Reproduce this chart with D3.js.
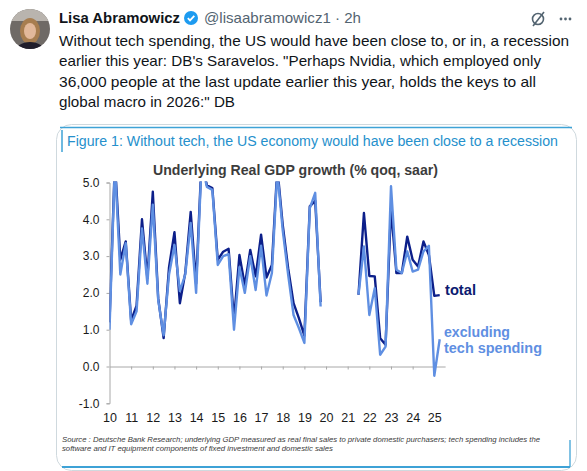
<!DOCTYPE html>
<html>
<head>
<meta charset="utf-8">
<script src="https://cdn.jsdelivr.net/npm/d3@7"></script>
<style>
  html, body { margin: 0; padding: 0; background: #fff; }
  svg { display: block; }
</style>
</head>
<body>
<div id="app"></div>
<script>
// quarterly, 2010Q1 .. 2025Q2 ; null = 2020-21 covid quarters left out of the chart
const quarters = d3.range(62).map(i => 2010 + i / 4);
const total = [
  1.2, 5.6, 2.9, 3.4, 1.25, 1.65, 4.0, 2.4,
  4.75, 1.85, 0.77, 2.7, 3.65, 1.72, 2.55, 4.2,
  2.25, 5.6, 4.92, 4.85, 2.9, 3.12, 3.2, 1.27,
  3.03, 2.2, 3.17, 2.45, 3.58, 2.42, 2.76, 5.4,
  3.85, 2.67, 1.72, 1.31, 0.84, 4.35, 4.5, 1.75,
  null, null, null, null, null, null, 1.95, 4.17,
  2.46, 2.45, 0.77, 0.59, 4.3, 2.54, 2.54, 3.53,
  2.9, 2.72, 3.4, 3.03, 1.92, 1.94
];
const exTech = [
  1.0, 5.5, 2.5, 3.35, 1.15, 1.5, 3.75, 2.25,
  4.4, 1.8, 0.85, 2.5, 3.3, 2.05, 2.5, 3.9,
  2.0, 5.5, 4.88, 4.8, 2.76, 3.0, 3.05, 1.0,
  2.7, 2.0, 3.0, 2.08, 3.28, 1.93, 2.54, 5.3,
  3.7, 2.5, 1.4, 1.04, 0.64, 4.3, 4.72, 1.63,
  null, null, null, null, null, null, 1.95, 3.26,
  1.4, 2.13, 0.32, 0.54, 4.9, 2.63, 2.54, 3.13,
  2.58, 2.63, 3.13, 3.28, -0.25, 0.74
];
const yTicks = [-1, 0, 1, 2, 3, 4, 5];
const xYears = d3.range(2010, 2026);

const tweetLines = [
  'Without tech spending, the US would have been close to, or in, a recession',
  'earlier this year: DB\'s Saravelos. "Perhaps Nvidia, which employed only',
  '36,000 people at the last update earlier this year, holds the keys to all',
  'global macro in 2026:" DB'
];
const sourceLines = [
  'Source : Deutsche Bank Research; underlying GDP measured as real final sales to private domestic purchasers; tech spending includes the',
  'software and IT equipment components of fixed investment and domestic sales'
];

const width = 587;
const height = 471;
const sans = '"Liberation Sans", Arial, Helvetica, sans-serif';
const dark = '#0c1f8a';
const light = '#5f8fe2';

const svg = d3.select('#app').append('svg')
  .attr('width', width)
  .attr('height', height)
  .style('font-family', sans);

svg.append('rect').attr('width', width).attr('height', height).attr('fill', '#fff');

// ---- tweet header ----
const av = svg.append('g');
av.append('clipPath').attr('id', 'avclip')
  .append('circle').attr('cx', 30).attr('cy', 29).attr('r', 20);
const avg = av.append('g').attr('clip-path', 'url(#avclip)');
avg.append('rect').attr('x', 10).attr('y', 9).attr('width', 40).attr('height', 40).attr('fill', '#6f6a66');
avg.append('rect').attr('x', 10).attr('y', 9).attr('width', 40).attr('height', 12).attr('fill', '#b9b4ae');
avg.append('ellipse').attr('cx', 30).attr('cy', 31).attr('rx', 10).attr('ry', 13).attr('fill', '#a77d4f');
avg.append('ellipse').attr('cx', 30).attr('cy', 31).attr('rx', 6).attr('ry', 8).attr('fill', '#e2b89a');
avg.append('ellipse').attr('cx', 30).attr('cy', 52).attr('rx', 15).attr('ry', 10).attr('fill', '#1f1d2b');

svg.append('text')
  .attr('x', 59).attr('y', 23)
  .attr('font-size', 15).attr('font-weight', 'bold').attr('fill', '#0f1419')
  .attr('textLength', 121).attr('lengthAdjust', 'spacingAndGlyphs')
  .text('Lisa Abramowicz');

const badge = svg.append('g').attr('transform', 'translate(191,18)');
badge.append('circle').attr('r', 7).attr('fill', '#1d9bf0');
badge.append('path').attr('d', 'M-3.2,0.2 L-1,2.4 L3.3,-2.2')
  .attr('fill', 'none').attr('stroke', '#fff').attr('stroke-width', 1.8);

svg.append('text')
  .attr('x', 204).attr('y', 23)
  .attr('font-size', 15).attr('fill', '#536471')
  .attr('textLength', 157).attr('lengthAdjust', 'spacingAndGlyphs')
  .text('@lisaabramowicz1 · 2h');

// grok-ish icon + more dots
svg.append('circle').attr('cx', 538).attr('cy', 19).attr('r', 5.5)
  .attr('fill', 'none').attr('stroke', '#536471').attr('stroke-width', 1.6);
svg.append('line').attr('x1', 533).attr('y1', 26).attr('x2', 544).attr('y2', 12)
  .attr('stroke', '#536471').attr('stroke-width', 1.6);
svg.selectAll('.dot').data([561, 565.5, 570]).enter().append('circle')
  .attr('cx', d => d).attr('cy', 19).attr('r', 1.4).attr('fill', '#536471');

const lineEnds = [569, 541, 536, 235];
svg.selectAll('.tw').data(tweetLines).enter().append('text')
  .attr('x', 59)
  .attr('y', (d, i) => 45.5 + i * 20.5)
  .attr('font-size', 15).attr('fill', '#0f1419')
  .attr('textLength', (d, i) => lineEnds[i] - 59)
  .attr('lengthAdjust', 'spacingAndGlyphs')
  .text(d => d);

// ---- media card ----
svg.append('rect')
  .attr('x', 56.5).attr('y', 124.5).attr('width', 520).attr('height', 346).attr('rx', 15)
  .attr('fill', '#fff').attr('stroke', '#cfd9de');

const frame = '#3ea2d6';
svg.append('line').attr('x1', 60).attr('x2', 572).attr('y1', 127.5).attr('y2', 127.5)
  .attr('stroke', frame).attr('stroke-width', 1.3);
svg.append('line').attr('x1', 62).attr('x2', 62).attr('y1', 130).attr('y2', 152)
  .attr('stroke', frame).attr('stroke-width', 1.5);
svg.append('line').attr('x1', 62).attr('x2', 570).attr('y1', 467).attr('y2', 467)
  .attr('stroke', frame).attr('stroke-width', 2);
svg.append('line').attr('x1', 570).attr('x2', 570).attr('y1', 440).attr('y2', 467)
  .attr('stroke', frame).attr('stroke-width', 1.3);

svg.append('text')
  .attr('x', 67).attr('y', 146)
  .attr('font-size', 14).attr('fill', '#2590cc')
  .attr('textLength', 491).attr('lengthAdjust', 'spacingAndGlyphs')
  .text('Figure 1: Without tech, the US economy would have been close to a recession');

svg.append('text')
  .attr('x', 153).attr('y', 175)
  .attr('font-size', 14).attr('font-weight', 'bold').attr('fill', '#3c3c3c')
  .attr('textLength', 285).attr('lengthAdjust', 'spacingAndGlyphs')
  .text('Underlying Real GDP growth (% qoq, saar)');

// ---- chart ----
const x = d3.scaleLinear().domain([2010, 2025]).range([109.5, 434.3]);
const y = d3.scaleLinear().domain([-1, 5]).range([403.3, 182.5]);

const yAxis = svg.append('g')
  .attr('transform', `translate(${x(2010)},0)`)
  .call(d3.axisLeft(y).tickValues(yTicks).tickSize(3).tickPadding(7).tickFormat(d => d.toFixed(1)));
yAxis.select('.domain').attr('stroke', '#a8a8a8');
yAxis.selectAll('.tick line').attr('stroke', '#a8a8a8');
yAxis.selectAll('text').attr('font-size', 12).attr('fill', '#1a1a1a').attr('font-family', sans);

// zero line with year ticks
const zeroAxis = svg.append('g')
  .attr('transform', `translate(0,${y(0)})`)
  .call(d3.axisBottom(x.copy().domain([2010, 2025.5]).range([x(2010), x(2025.5)]))
    .tickValues(xYears.slice(1)).tickSize(3).tickSizeOuter(0).tickFormat(''));
zeroAxis.select('.domain').attr('stroke', '#a8a8a8');
zeroAxis.selectAll('.tick line').attr('stroke', '#a8a8a8');

// year labels sit below the -1 line
const xLabels = svg.append('g')
  .attr('transform', `translate(0,${y(-1)})`)
  .call(d3.axisBottom(x).tickValues(xYears).tickSize(0).tickPadding(10)
    .tickFormat(d => String(d).slice(2)));
xLabels.select('.domain').remove();
xLabels.selectAll('text').attr('font-size', 12.5).attr('fill', '#1a1a1a').attr('font-family', sans);

svg.append('clipPath').attr('id', 'plotclip')
  .append('rect').attr('x', x(2010)).attr('y', y(5) - 1)
  .attr('width', x(2025.6) - x(2010)).attr('height', y(-1) - y(5) + 1);

const line = d3.line()
  .defined(d => d[1] != null)
  .x(d => x(d[0]))
  .y(d => y(d[1]));

const plot = svg.append('g').attr('clip-path', 'url(#plotclip)');
plot.append('path')
  .datum(d3.zip(quarters, total))
  .attr('d', line)
  .attr('fill', 'none').attr('stroke', dark).attr('stroke-width', 2.4)
  .attr('stroke-linejoin', 'round');
plot.append('path')
  .datum(d3.zip(quarters, exTech))
  .attr('d', line)
  .attr('fill', 'none').attr('stroke', light).attr('stroke-width', 2.4)
  .attr('stroke-linejoin', 'round');

// labels
svg.append('text')
  .attr('x', 445).attr('y', 295)
  .attr('font-size', 15).attr('font-weight', 'bold').attr('fill', '#0b1a70')
  .attr('textLength', 31).attr('lengthAdjust', 'spacingAndGlyphs')
  .text('total');
svg.append('text')
  .attr('x', 444).attr('y', 336.5)
  .attr('font-size', 14.5).attr('font-weight', 'bold').attr('fill', light)
  .attr('textLength', 66).attr('lengthAdjust', 'spacingAndGlyphs')
  .text('excluding');
svg.append('text')
  .attr('x', 444).attr('y', 353)
  .attr('font-size', 14.5).attr('font-weight', 'bold').attr('fill', light)
  .attr('textLength', 98).attr('lengthAdjust', 'spacingAndGlyphs')
  .text('tech spending');

const srcEnds = [540, 333];
svg.selectAll('.src').data(sourceLines).enter().append('text')
  .attr('x', 62)
  .attr('y', (d, i) => 442 + i * 8.5)
  .attr('font-size', 8).attr('font-style', 'italic').attr('fill', '#3a3a3a')
  .attr('textLength', (d, i) => srcEnds[i] - 62)
  .attr('lengthAdjust', 'spacingAndGlyphs')
  .text(d => d);
</script>
</body>
</html>
